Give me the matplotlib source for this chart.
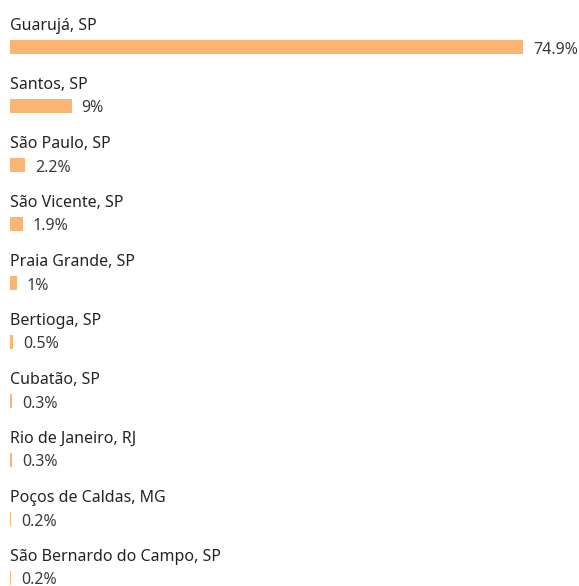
import matplotlib
matplotlib.use('Agg')
import matplotlib.pyplot as plt
import matplotlib.transforms as mtransforms

# data
cities = [
    "Guarujá, SP",
    "Santos, SP",
    "São Paulo, SP",
    "São Vicente, SP",
    "Praia Grande, SP",
    "Bertioga, SP",
    "Cubatão, SP",
    "Rio de Janeiro, RJ",
    "Poços de Caldas, MG",
    "São Bernardo do Campo, SP",
]
shares = [74.9, 9, 2.2, 1.9, 1, 0.5, 0.3, 0.3, 0.2, 0.2]
share_labels = ["74.9%", "9%", "2.2%", "1.9%", "1%", "0.5%", "0.3%", "0.3%", "0.2%", "0.2%"]

bar_color = "#FBB474"
text_color = "#252423"
value_color = "#3B3A39"

plt.rcParams['font.family'] = ['Noto Sans', 'DejaVu Sans']

W, H = 579, 586
fig = plt.figure(figsize=(W / 100, H / 100), dpi=100)
ax = fig.add_axes([10 / W, 0, 1 - 10 / W, 1])

# pixel layout: 59 px per row, bar centre 47 px from top, bar 14 px tall
row_px = 59.0
xmax = shares[0] * (W - 10) / 513.0
ax.set_xlim(0, xmax)
ax.set_ylim((H - 47) / row_px, -47 / row_px)
ax.axis("off")

rows = list(range(len(cities)))
ax.barh(rows, shares, height=14 / row_px, color=bar_color, linewidth=0)

# name baseline sits 17 px above bar centre, value baseline 6.5 px below it
label_shift = mtransforms.offset_copy(ax.transData, fig=fig, x=0, y=17, units="dots")
value_shift = mtransforms.offset_copy(ax.transData, fig=fig, x=10, y=-6.5, units="dots")

for i, (name, val, lab) in enumerate(zip(cities, shares, share_labels)):
    ax.text(0, i, name, transform=label_shift, ha="left", va="baseline",
            fontsize=11.5, color=text_color)
    ax.text(val, i, lab, transform=value_shift, ha="left", va="baseline",
            fontsize=11.5, color=value_color)

fig.savefig("out.png", dpi=100)
